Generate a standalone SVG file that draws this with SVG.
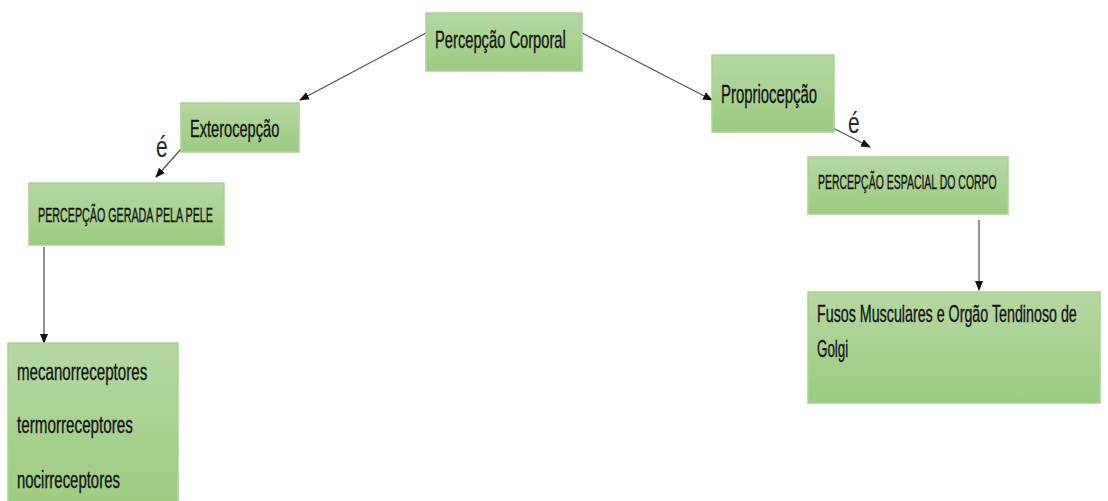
<svg xmlns="http://www.w3.org/2000/svg" width="1108" height="501" viewBox="0 0 1108 501">
  <defs>
    <linearGradient id="boxFill" x1="0" y1="0" x2="0" y2="1">
      <stop offset="0" stop-color="#b6d7a2"/>
      <stop offset="1" stop-color="#9bcb80"/>
    </linearGradient>
    <marker id="arrow" viewBox="0 0 10 10" refX="9" refY="5" markerWidth="10" markerHeight="10" markerUnits="userSpaceOnUse" orient="auto">
      <path d="M0,1 L10,5 L0,9 Z" fill="#111"/>
    </marker>
    <style>
      .box { fill: url(#boxFill); stroke: #a9d295; stroke-width: 1.5; }
      .lbl { font-family: "Liberation Sans", Arial, sans-serif; fill: #141414; stroke: #141414; stroke-width: 0.35; }
      .edge { stroke: #555; stroke-width: 1.3; fill: none; marker-end: url(#arrow); }
      .tag { font-family: "Liberation Sans", Arial, sans-serif; font-size: 30px; fill: #2a2a2a; }
    </style>
  </defs>

  <!-- connectors -->
  <g id="connectors">
    <line class="edge" x1="426" y1="33" x2="300" y2="100"/>
    <line class="edge" x1="582" y1="33" x2="712" y2="100"/>
    <line class="edge" x1="182" y1="148" x2="156" y2="177"/>
    <line class="edge" x1="833" y1="128" x2="870" y2="147"/>
    <line class="edge" x1="44" y1="247" x2="44" y2="343"/>
    <line class="edge" x1="979" y1="220" x2="979" y2="290"/>
    <text class="tag" transform="translate(156,157) scale(0.7,1)">é</text>
    <text class="tag" transform="translate(848,133) scale(0.7,1)">é</text>
  </g>

  <!-- root -->
  <g id="percepcao-corporal">
    <rect class="box" x="426" y="13" width="156" height="58"/>
    <text class="lbl" font-size="24" transform="translate(435,48) scale(0.62,1)" textLength="211" lengthAdjust="spacingAndGlyphs">Percepção Corporal</text>
  </g>

  <!-- left branch -->
  <g id="exterocepcao">
    <rect class="box" x="181" y="103" width="118" height="49"/>
    <text class="lbl" font-size="24" transform="translate(190,137) scale(0.62,1)" textLength="144" lengthAdjust="spacingAndGlyphs">Exterocepção</text>
  </g>

  <g id="percepcao-pele">
    <rect class="box" x="29" y="183" width="195" height="62"/>
    <text class="lbl" font-size="20" transform="translate(38,222) scale(0.55,1)" textLength="318" lengthAdjust="spacingAndGlyphs">PERCEPÇÃO GERADA PELA PELE</text>
  </g>

  <g id="receptores">
    <rect class="box" x="8" y="343" width="170" height="170"/>
    <text class="lbl" font-size="24" transform="translate(17,380) scale(0.62,1)" textLength="210" lengthAdjust="spacingAndGlyphs">mecanorreceptores</text>
    <text class="lbl" font-size="24" transform="translate(17,433) scale(0.62,1)" textLength="187" lengthAdjust="spacingAndGlyphs">termorreceptores</text>
    <text class="lbl" font-size="24" transform="translate(17,488) scale(0.62,1)" textLength="166" lengthAdjust="spacingAndGlyphs">nocirreceptores</text>
  </g>

  <!-- right branch -->
  <g id="propriocepcao">
    <rect class="box" x="712" y="55" width="122" height="77"/>
    <text class="lbl" font-size="25" transform="translate(721,103) scale(0.62,1)" textLength="155" lengthAdjust="spacingAndGlyphs">Propriocepção</text>
  </g>

  <g id="percepcao-espacial">
    <rect class="box" x="808" y="157" width="200" height="57"/>
    <text class="lbl" font-size="20" transform="translate(818,189) scale(0.55,1)" textLength="325" lengthAdjust="spacingAndGlyphs">PERCEPÇÃO ESPACIAL DO CORPO</text>
  </g>

  <g id="fusos-golgi">
    <rect class="box" x="808" y="292" width="292" height="111"/>
    <text class="lbl" font-size="24" transform="translate(817,322) scale(0.6,1)" textLength="433" lengthAdjust="spacingAndGlyphs">Fusos Musculares e Orgão Tendinoso  de</text>
    <text class="lbl" font-size="24" transform="translate(817,357) scale(0.6,1)" textLength="52" lengthAdjust="spacingAndGlyphs">Golgi</text>
  </g>
</svg>
